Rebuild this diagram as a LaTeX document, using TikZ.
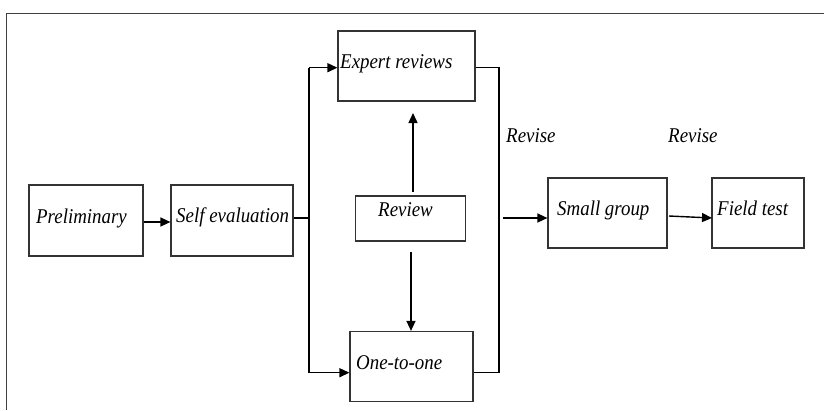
\documentclass[tikz,border=0pt]{standalone}
\usepackage{fontspec}
\setmainfont[FakeStretch=0.9]{Liberation Serif}
\usetikzlibrary{arrows.meta}
\begin{document}
\begin{tikzpicture}[x=1pt,y=-1pt,
  box/.style={draw=black!80,line width=1.2pt,inner sep=0pt,minimum width=#1},
  lbl/.style={anchor=base west,inner sep=0pt,font=\fontsize{21}{24}\selectfont\itshape},
  conn/.style={line width=1.4pt,black},
  arr/.style={conn,-{Triangle[length=10pt,width=9pt]}}]
\useasboundingbox (0,0) rectangle (824,410);
% outer frame (open on right and bottom)
\draw[line width=1pt,black!75] (6,410) -- (6,13) -- (824,13);
% boxes
\node[box=114pt,minimum height=71pt] (pre) at (86,220.5) {};
\node[box=122pt,minimum height=71pt] (self) at (232,220.5) {};
\node[box=137pt,minimum height=70pt] (exp) at (406.5,66) {};
\node[box=110pt,minimum height=45pt] (rev) at (410.5,218.5) {};
\node[box=123pt,minimum height=70pt] (one) at (411.5,366.5) {};
\node[box=119pt,minimum height=70pt] (sg) at (607.5,213) {};
\node[box=92pt,minimum height=70pt] (ft) at (758,213) {};
% labels
\node[lbl] (tpre) at (36,223) {Preliminary};
\node[lbl] (tself) at (176,222) {Self evaluation};
\node[lbl] (texp) at (340,68.5) {Expert reviews};
\node[lbl] (trev) at (378,216) {Review};
\node[lbl] (tone) at (356,369) {One-to-one};
\node[lbl] (tsg) at (557,215) {Small group};
\node[lbl] (tft) at (717,215) {Field test};
\node[lbl] (rv1) at (506,142) {Revise};
\node[lbl] (rv2) at (668,142) {Revise};
% junction coordinates
\coordinate (jm) at (309,218);
\coordinate (jt) at (309,67.7);
\coordinate (jb) at (309,372.7);
\coordinate (kt) at (499,67.7);
\coordinate (kb) at (499,372.7);
\coordinate (ko) at (503,218);
\coordinate (ua) at (413,192);
\coordinate (ub) at (413,113);
\coordinate (da) at (411,252);
\coordinate (sa) at (669,216);
\coordinate (sb) at (712,218);
% connectors
\draw[arr] (pre.east |- 0,222) -- (self.west |- 0,222);
\draw[conn] (self.east |- jm) -- (jm);
\draw[conn] (jt) -- (jb);
\draw[arr] (jt) -- (exp.west |- jt);
\draw[arr] (jb) -- (one.west |- jb);
\draw[conn] (exp.east |- kt) -- (kt) -- (kb) -- (one.east |- kb);
\draw[arr] (ua) -- (ub);
\draw[arr] (da) -- (da |- one.north);
\draw[arr] (ko) -- (sg.west |- ko);
\draw[arr] (sa) -- (sb);
\end{tikzpicture}
\end{document}
